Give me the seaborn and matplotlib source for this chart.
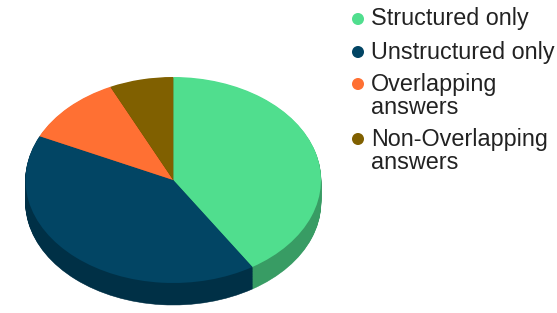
import numpy as np
import seaborn as sns
import matplotlib.pyplot as plt

sns.set_theme(style="white")
plt.rcParams["font.family"] = ["Liberation Sans", "DejaVu Sans"]

categories = ["Structured only", "Unstructured only", "Overlapping\nanswers", "Non-Overlapping\nanswers"]
values = [41, 41, 11, 7]
colors = ["#50DE8E", "#024564", "#FF7033", "#806000"]
side_colors = ["#389C64", "#003046", "#B34E24", "#5A4300"]

W, H = 557, 313
fig = plt.figure(figsize=(W / 100, H / 100), dpi=100)

# pie area in pixels: x 25-321, top face y 77-283, side goes down 22px more
depth = 22 / 103
ax = fig.add_axes([25.5 / W, (H - 305) / H, 295.5 / W, 228 / H])

# side wall: same pie stacked downwards
for off in np.linspace(depth, 0.01, 30):
    wedges, _ = ax.pie(values, colors=side_colors, startangle=90, counterclock=False,
                       center=(0, -off), radius=1)
    for w, c in zip(wedges, side_colors):
        w.set_edgecolor(c)
        w.set_linewidth(0.4)
ax.pie(values, colors=colors, startangle=90, counterclock=False,
       center=(0, 0), radius=1, wedgeprops={"linewidth": 0})
ax.set_aspect("auto")
ax.set_xlim(-1, 1)
ax.set_ylim(-1 - depth, 1)
ax.axis("off")
for p in ax.patches:
    p.set_clip_on(False)

# legend drawn in pixel coordinates
leg = fig.add_axes([0, 0, 1, 1])
leg.patch.set_alpha(0)
dot_y = [19, 52, 84, 139]
text_y = [19, 52, 95.5, 151]
sns.scatterplot(x=[358] * 4, y=dot_y, hue=categories, palette=colors, s=75,
                linewidth=0, legend=False, ax=leg)
leg.set_xlim(0, W)
leg.set_ylim(H, 0)
leg.axis("off")
for name, y in zip(categories, text_y):
    leg.text(371, y, name, fontsize=16.8, color="#222222", va="center", ha="left",
             linespacing=1.0)

fig.savefig("out.png", dpi=100)
